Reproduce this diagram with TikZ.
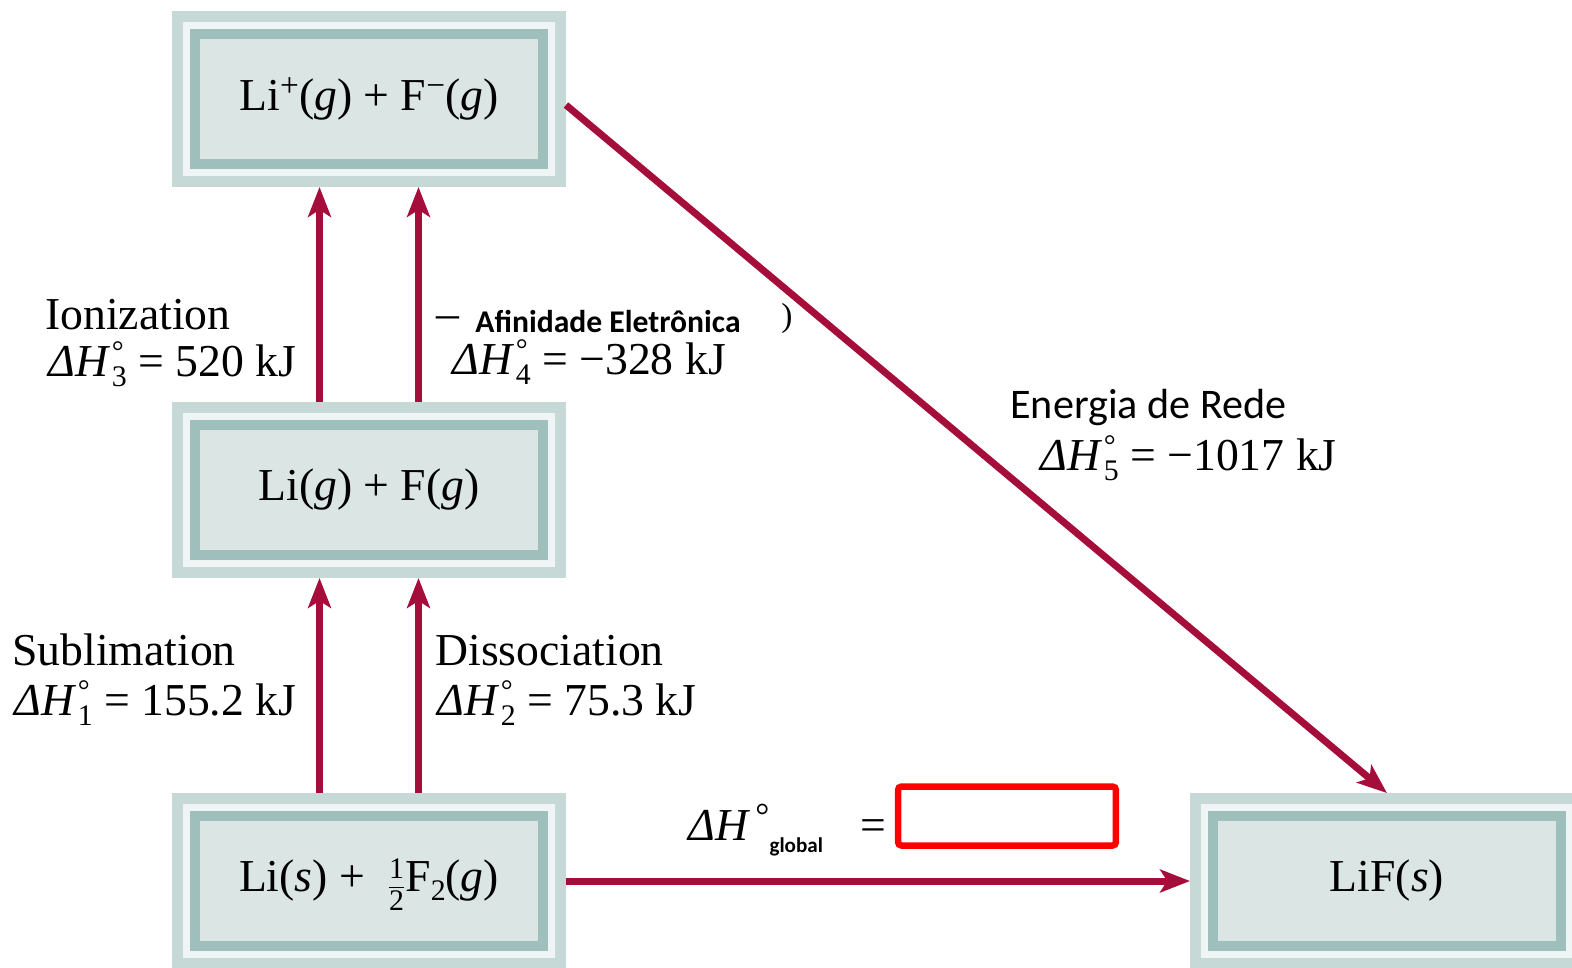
\documentclass[tikz,border=0pt]{standalone}
\usepackage{fontspec}
\setmainfont{Liberation Serif}
\newfontfamily\calib{Carlito}
\usepackage{xcolor}
\usepackage{tikz}
\usetikzlibrary{arrows.meta}
\definecolor{crim}{HTML}{A50E3B}
\definecolor{panel}{HTML}{DAE5E4}
\definecolor{band}{HTML}{9FBFBC}
\definecolor{rim}{HTML}{C6D9D7}
\definecolor{shine}{HTML}{EEF5F4}
\definecolor{ansred}{HTML}{FF0000}
\tikzset{
  chem/.style={rectangle, fill=panel, draw=band, line width=0.2cm,
               preaction={draw=rim, line width=0.92cm},
               preaction={draw=shine, line width=0.5cm},
               minimum width=6.96cm, minimum height=2.6cm, outer sep=0.46cm,
               font=\fontsize{26}{30}\selectfont},
  rxn/.style={-{Stealth[length=17pt, width=13pt, inset=4pt]}, draw=crim, line width=0.14cm},
  lbl/.style={anchor=base west, inner sep=0pt, font=\fontsize{26}{30}\selectfont},
  sans/.style={anchor=base west, inner sep=0pt, font=\calib\fontsize{24}{28}\selectfont},
  ans/.style={draw=ansred, line width=0.13cm, rounded corners=2pt,
              minimum width=4.36cm, minimum height=1.18cm}
}
\newcommand{\sml}{\fontsize{17}{17}\selectfont}
\newcommand{\dH}[1]{\textit{ΔH}\kern1pt\smash{\rlap{\raisebox{8pt}{\sml °}}\raisebox{-6pt}{\sml #1}}}
\newcommand{\ion}[1]{\raisebox{8pt}{\fontsize{19}{19}\selectfont #1}}
\newcommand{\half}{\smash{\makebox[10pt]{\fontsize{17}{17}\selectfont
  \rlap{\raisebox{7.5pt}{1}}\rlap{\rule[2.2pt]{8.5pt}{0.8pt}}\raisebox{-10.5pt}{2}}}}

\begin{document}
\begin{tikzpicture}[x=0.02cm, y=-0.02cm]
  \useasboundingbox (0,0) rectangle (1572,967);
  \clip (0,0) rectangle (1572,967);

  % boxes
  \node[chem] (top) at (369,99) {Li\ion{+}(\textit{g}) + F\ion{−}(\textit{g})};
  \node[chem] (mid) at (369,490) {Li(\textit{g}) + F(\textit{g})};
  \node[chem] (bot) at (369,881) {Li(\textit{s}) + \ \half F\raisebox{-5pt}{\sml 2}(\textit{g})};
  \node[chem] (lif) at (1387,881) {LiF(\textit{s})};

  % steps
  \draw[rxn] ([xshift=-0.99cm]bot.north) -- ([xshift=-0.99cm]mid.south);
  \draw[rxn] ([xshift=0.99cm]bot.north) -- ([xshift=0.99cm]mid.south);
  \draw[rxn] ([xshift=-0.99cm]mid.north) -- ([xshift=-0.99cm]top.south);
  \draw[rxn] ([xshift=0.99cm]mid.north) -- ([xshift=0.99cm]top.south);
  \draw[rxn] ([yshift=-0.12cm]top.east) -- (lif.north);
  \draw[rxn] (bot.east) -- (lif.west);

  % labels
  \node[lbl] (subT) at (12,665) {Sublimation};
  \node[lbl] (subV) at (14,715) {\dH{1} = 155.2 kJ};
  \node[lbl] (disT) at (435,665) {Dissociation};
  \node[lbl] (disV) at (437,715) {\dH{2} = 75.3 kJ};
  \node[lbl] (ionT) at (45,329) {Ionization};
  \node[lbl] (ionV) at (48,376) {\dH{3} = 520 kJ};
  \node[lbl] (eaD) at (436,328) {–};
  \node[sans, font=\calib\bfseries\fontsize{18}{22}\selectfont] (eaT) at (475,332) {Afinidade Eletrônica};
  \node[lbl, font=\fontsize{19}{22}\selectfont] (eaP) at (781,326) {)};
  \node[lbl] (eaV) at (452,374) {\dH{4} = −328 kJ};
  \node[sans] (latT) at (1010,418) {Energia de Rede};
  \node[lbl] (latV) at (1040,470) {\dH{5} = −1017 kJ};

  % overall
  \node[lbl] (glob) at (688,840) {\textit{ΔH}\kern3pt\smash{\raisebox{7pt}{\fontsize{20}{20}\selectfont °}}\raisebox{-7pt}{\calib\bfseries\fontsize{12}{12}\selectfont global}\hspace{0.75cm}=};
  \node[ans] (answer) at (1007,816) {};
\end{tikzpicture}
\end{document}
